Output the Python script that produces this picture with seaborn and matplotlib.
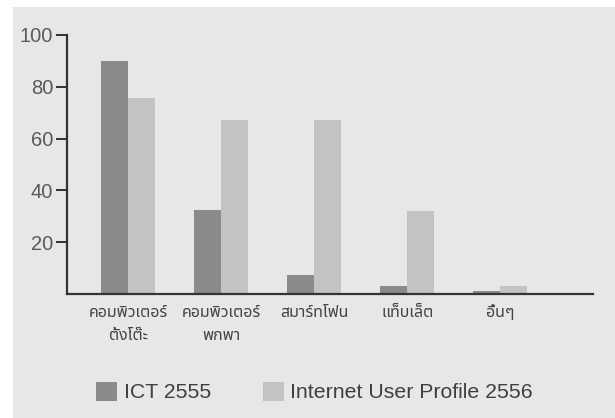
import matplotlib
matplotlib.use("Agg")
import matplotlib.pyplot as plt
from matplotlib.patches import Rectangle
import pandas as pd
import seaborn as sns

# Device usage share (%) by device type
categories = ["คอมพิวเตอร์\nตั้งโต๊ะ", "คอมพิวเตอร์\nพกพา", "สมาร์ทโฟน", "แท็บเล็ต", "อื่นๆ"]
series_names = ["ICT 2555", "Internet User Profile 2556"]
ict_2555 = [90, 32.5, 7.5, 3, 1]
iup_2556 = [75.5, 67, 67, 32, 3]
y_ticks = [20, 40, 60, 80, 100]

df = pd.DataFrame({
    "category": categories * 2,
    "series": [series_names[0]] * len(categories) + [series_names[1]] * len(categories),
    "value": ict_2555 + iup_2556,
})

bg = "#e7e7e7"
sns.set_theme(style="white")
plt.rcParams["font.family"] = ["Liberation Sans", "DejaVu Sans"]

fig = plt.figure(figsize=(6.15, 4.18), dpi=100, facecolor="white")
# grey panel behind the chart (thin white strip on top/left as in the scan)
fig.patches.append(Rectangle((13 / 615, 0), 1, 1 - 7 / 418, transform=fig.transFigure,
                             facecolor=bg, edgecolor="none", zorder=-10))
ax = fig.add_axes([67 / 615, 1 - 294 / 418, (593 - 67) / 615, (294 - 35) / 418])
ax.set_facecolor(bg)

sns.barplot(data=df, x="category", y="value", hue="series", order=categories,
            hue_order=series_names, palette=["#8a8a8a", "#c3c3c3"],
            width=0.58, linewidth=0, saturation=1, ax=ax)

ax.set_xlim(-0.66, 5.0)
ax.set_ylim(0, 100)
ax.set_yticks(y_ticks)
ax.set_xlabel("")
ax.set_ylabel("")

for side in ["top", "right"]:
    ax.spines[side].set_visible(False)
for side in ["left", "bottom"]:
    ax.spines[side].set_color("#333333")
    ax.spines[side].set_linewidth(1.6)

ax.tick_params(axis="y", direction="out", length=8, width=1.4, color="#333333",
               labelsize=14.5, labelcolor="#5a5a5a", pad=2, left=True)
ax.tick_params(axis="x", length=0, pad=8)
for lbl in ax.get_xticklabels():
    lbl.set_family(["Noto Sans Thai", "DejaVu Sans"])
    lbl.set_fontsize(11.5)
    lbl.set_color("#444444")
    lbl.set_linespacing(1.55)

sns.move_legend(ax, "center", bbox_to_anchor=(314.5 / 615, 1 - 392 / 418),
                bbox_transform=fig.transFigure, ncol=2, frameon=False, title=None,
                fontsize=15.3, handlelength=1.0, handleheight=1.0,
                handletextpad=0.3, columnspacing=2.45)
for t in ax.get_legend().get_texts():
    t.set_color("#3f3f3f")

fig.savefig("out.png", dpi=100, facecolor=fig.get_facecolor())
